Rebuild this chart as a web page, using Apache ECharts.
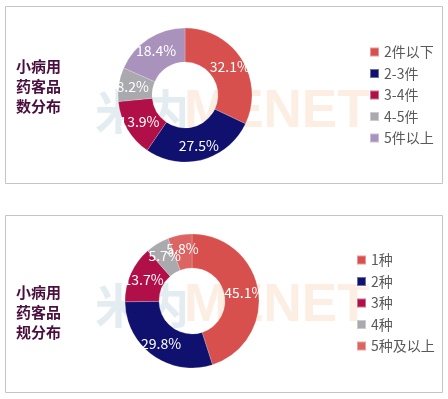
<!DOCTYPE html>
<html><head><meta charset="utf-8">
<script src="https://cdn.jsdelivr.net/npm/echarts@6/dist/echarts.min.js"></script>
<style>html,body{margin:0;padding:0;background:#fff}#c{width:448px;height:399px}</style>
</head><body><div id="c"></div>
<script>
const topCategories = ['2件以下', '2-3件', '3-4件', '4-5件', '5件以上'];
const topValues = [32.1, 27.5, 13.9, 8.2, 18.4];
const topColors = ['#d7504d', '#10106f', '#b00f47', '#a9a9ae', '#a993bc'];
const bottomCategories = ['1种', '2种', '3种', '4种', '5种及以上'];
const bottomValues = [45.1, 29.8, 13.7, 5.7, 5.8];
const bottomColors = ['#d7504d', '#10106f', '#b00f47', '#a9a9ae', '#dc6462'];
const topTitle = '小病用\n药客品\n数分布';
const bottomTitle = '小病用\n药客品\n规分布';

const font = '"Microsoft YaHei","Noto Sans CJK SC",sans-serif';
const chart = echarts.init(document.getElementById('c'));

function mk(cats, vals, cols) {
  return cats.map((n, i) => ({ name: n, value: vals[i], itemStyle: { color: cols[i] } }));
}
function watermark(y) {
  return [
    { type: 'text', left: 95, top: y - 4, silent: true, z: 0,
      style: { text: '米内', fill: '#e3ecf1', font: 'bold 47px ' + font } },
    { type: 'text', left: 184, top: y - 6, silent: true, z: 0,
      style: { text: 'MENET', fill: '#fdeee3', font: 'bold 53px Arial, "Liberation Sans", sans-serif' } }
  ];
}
const legendCommon = {
  orient: 'vertical', icon: 'rect', itemWidth: 9, itemHeight: 9, itemGap: 7.5,
  textStyle: { color: '#595959', fontSize: 14, lineHeight: 14, fontFamily: font }
};
const pieCommon = {
  type: 'pie', radius: [33, 67], startAngle: 90, clockwise: true, z: 3,
  label: { show: true, position: 'inside', formatter: '{c}%', color: '#fff', fontSize: 14, fontFamily: font },
  labelLayout: { hideOverlap: false },
  labelLine: { show: false }, emphasis: { disabled: true }, animation: false,
  itemStyle: { borderColor: 'rgba(255,255,255,0.4)', borderWidth: 0.5 }
};
chart.setOption({
  animation: false,
  graphic: [
    { type: 'rect', shape: { x: 5.5, y: 6.5, width: 437, height: 177 }, style: { fill: 'none', stroke: '#c4c4c4', lineWidth: 1 }, z: 0 },
    { type: 'rect', shape: { x: 5.5, y: 215.5, width: 437, height: 177 }, style: { fill: 'none', stroke: '#c4c4c4', lineWidth: 1 }, z: 0 },
    ...watermark(92),
    ...watermark(286),
    { type: 'text', left: 16, top: 56, z: 5,
      style: { text: topTitle, fill: '#4a0f3e', font: 'bold 15px ' + font, lineHeight: 20 } },
    { type: 'text', left: 16, top: 282, z: 5,
      style: { text: bottomTitle, fill: '#4a0f3e', font: 'bold 15px ' + font, lineHeight: 20 } }
  ],
  legend: [
    Object.assign({}, legendCommon, { left: 364, top: 40, data: topCategories }),
    Object.assign({}, legendCommon, { left: 351, top: 248, data: bottomCategories })
  ],
  series: [
    Object.assign({}, pieCommon, { center: [185, 95], data: mk(topCategories, topValues, topColors) }),
    Object.assign({}, pieCommon, { center: [192, 301], data: mk(bottomCategories, bottomValues, bottomColors) })
  ]
});
</script></body></html>
